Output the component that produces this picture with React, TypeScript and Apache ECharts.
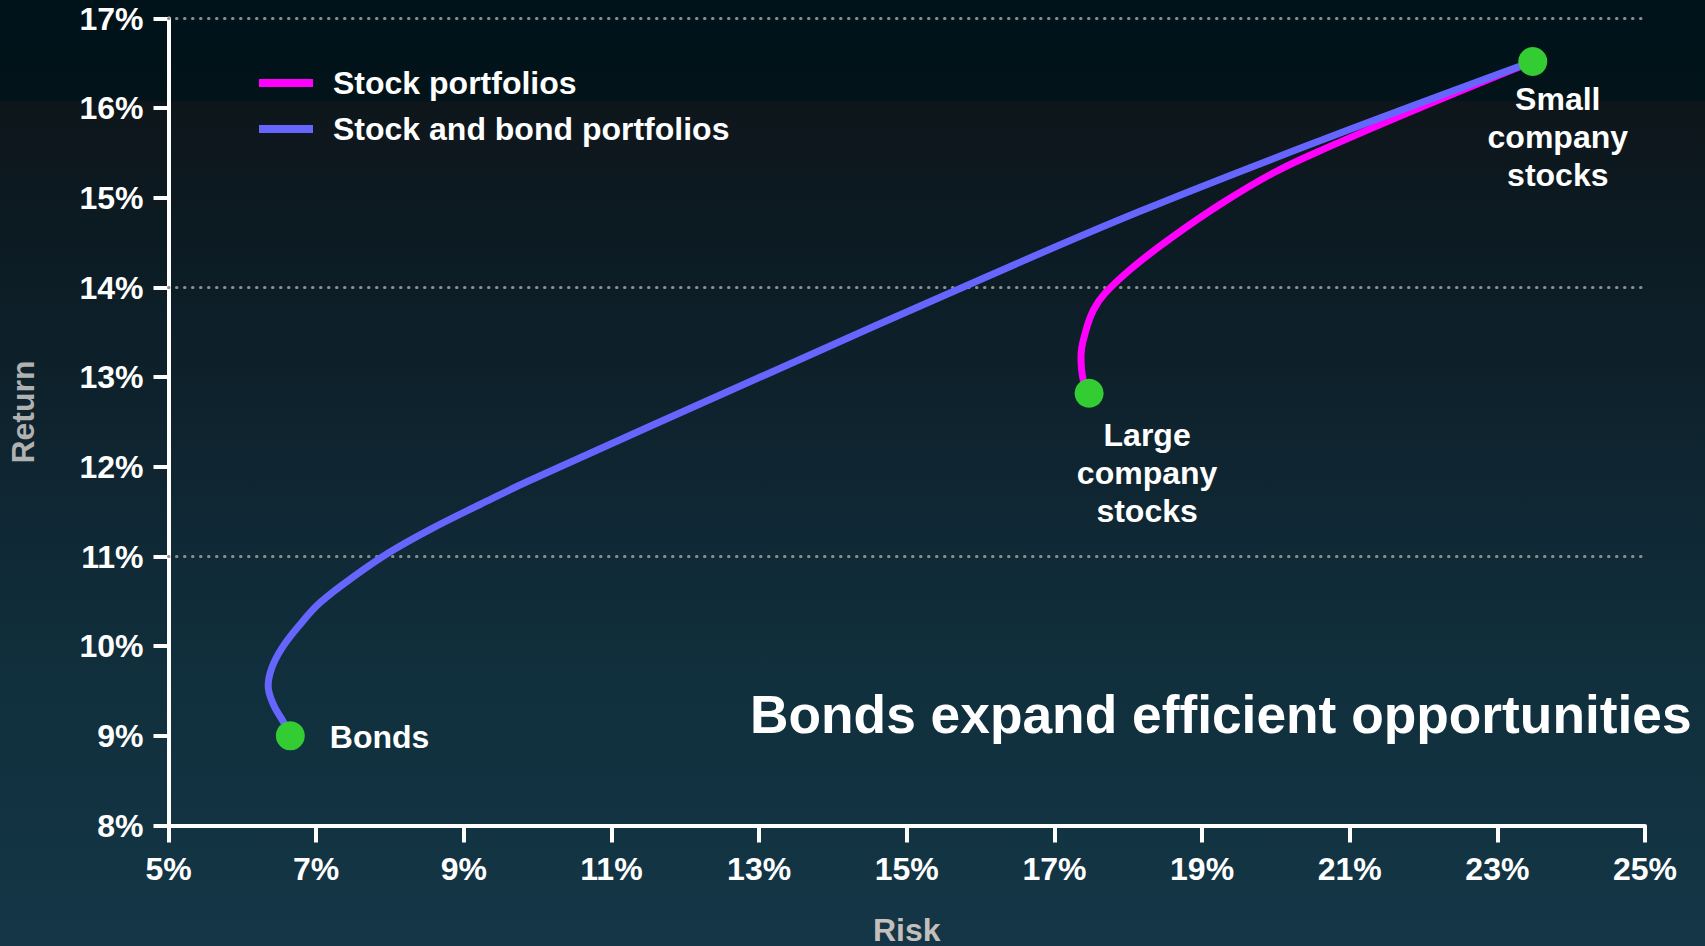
import React, { useEffect, useRef } from "react";
import * as echarts from "echarts";

// ---- data ----
const xTickValues = [5, 7, 9, 11, 13, 15, 17, 19, 21, 23, 25];
const yMin = 8;
const yMax = 17;
const gridLevels = [11, 14, 17];

const seriesNames = ["Stock portfolios", "Stock and bond portfolios"];

// risk %, return %
const stockPortfolios: [number, number][] = [
  [17.47, 12.82],
  [17.39, 12.97],
  [17.36, 13.23],
  [17.42, 13.5],
  [17.53, 13.75],
  [17.69, 13.94],
  [18.07, 14.23],
  [18.61, 14.57],
  [19.29, 14.95],
  [19.97, 15.28],
  [20.64, 15.54],
  [22.0, 16.02],
  [23.48, 16.52],
];

const stockBondPortfolios: [number, number][] = [
  [6.65, 9.0],
  [6.56, 9.15],
  [6.42, 9.35],
  [6.35, 9.56],
  [6.4, 9.76],
  [6.53, 9.97],
  [6.75, 10.21],
  [7.06, 10.49],
  [7.55, 10.8],
  [8.0, 11.05],
  [8.54, 11.3],
  [9.22, 11.58],
  [9.9, 11.85],
  [13.15, 13.05],
  [16.0, 14.09],
  [18.16, 14.85],
  [20.64, 15.65],
  [23.48, 16.52],
];

const pointNames = ["Bonds", "Large\ncompany\nstocks", "Small\ncompany\nstocks"];
const pointValues: [number, number][] = [
  [6.65, 9.0],
  [17.47, 12.82],
  [23.48, 16.52],
];

const titleText = "Bonds expand efficient opportunities";
const xName = "Risk";
const yName = "Return";

// ---- styles ----
const FONT = "Liberation Sans, Arial, Helvetica, sans-serif";
const PINK = "#ff00ff";
const BLUE = "#6666ff";
const GREEN = "#33cc33";

const pointLabelLayouts = [
  { position: "right", distance: 25, offset: [0, 1], align: "left" },
  { position: "bottom", distance: 8, offset: [58, 0], align: "center" },
  { position: "bottom", distance: 4, offset: [25, 0], align: "center" },
];

export default function App() {
  const ref = useRef<HTMLDivElement>(null);

  useEffect(() => {
    document.body.style.margin = "0";
    const chart = echarts.init(ref.current as HTMLDivElement, undefined, {
      renderer: "svg",
    });

    const axisLabelStyle = {
      color: "#ffffff",
      fontFamily: FONT,
      fontWeight: "bold",
      fontSize: 32,
    };

    chart.setOption({
      animation: false,
      backgroundColor: "transparent",
      textStyle: { fontFamily: FONT },
      title: {
        text: titleText,
        left: 745,
        top: 683,
        textStyle: {
          color: "#ffffff",
          fontFamily: FONT,
          fontWeight: "bold",
          fontSize: 53.3,
          lineHeight: 53,
        },
      },
      legend: {
        data: seriesNames,
        orient: "vertical",
        left: 254,
        top: 62,
        icon: "rect",
        itemWidth: 54,
        itemHeight: 8,
        itemGap: 14,
        selectedMode: false,
        textStyle: {
          color: "#ffffff",
          fontFamily: FONT,
          fontWeight: "bold",
          fontSize: 32,
          lineHeight: 32,
          padding: [0, 0, 0, 15],
        },
      },
      grid: {
        left: 168.5,
        right: 60,
        top: 18.5,
        bottom: 120.5,
        containLabel: false,
        outerBoundsMode: "none",
      },
      xAxis: {
        type: "value",
        min: 5,
        max: 25,
        interval: 1,
        name: xName,
        nameLocation: "middle",
        nameGap: 88,
        nameMoveOverlap: false,
        nameTextStyle: {
          color: "#c2bfbc",
          fontFamily: FONT,
          fontWeight: "bold",
          fontSize: 32,
        },
        axisLine: { show: true, lineStyle: { color: "#ffffff", width: 4 } },
        axisTick: {
          show: true,
          length: 17,
          lineStyle: { color: "#ffffff", width: 4 },
          customValues: xTickValues,
        },
        axisLabel: {
          ...axisLabelStyle,
          margin: 27,
          customValues: xTickValues,
          formatter: (v: number) => `${v}%`,
        },
        splitLine: { show: false },
      },
      yAxis: {
        type: "value",
        min: yMin,
        max: yMax,
        interval: 1,
        name: yName,
        nameLocation: "middle",
        nameGap: 130,
        nameMoveOverlap: false,
        nameTextStyle: {
          color: "#b0b1b1",
          fontFamily: FONT,
          fontWeight: "bold",
          fontSize: 32,
          padding: [0, 0, 0, 20],
        },
        axisLine: { show: true, lineStyle: { color: "#ffffff", width: 4 } },
        axisTick: {
          show: true,
          length: 15,
          lineStyle: { color: "#ffffff", width: 4 },
        },
        axisLabel: {
          ...axisLabelStyle,
          margin: 25,
          formatter: (v: number) => `${v}%`,
        },
        splitLine: { show: false },
      },
      series: [
        {
          name: seriesNames[0],
          type: "line",
          data: stockPortfolios,
          smooth: 0.4,
          showSymbol: false,
          symbol: "none",
          z: 2,
          lineStyle: { color: PINK, width: 7 },
          itemStyle: { color: PINK },
          emphasis: { disabled: true },
          markLine: {
            silent: true,
            z: 1,
            symbol: "none",
            label: { show: false },
            emphasis: { disabled: true },
            lineStyle: {
              color: "#8e8e8e",
              width: 3,
              type: [0.5, 7.5],
              cap: "round",
            },
            data: gridLevels.map((v) => ({ yAxis: v })),
          },
        },
        {
          name: seriesNames[1],
          type: "line",
          data: stockBondPortfolios,
          smooth: 0.4,
          showSymbol: false,
          symbol: "none",
          z: 3,
          lineStyle: { color: BLUE, width: 7 },
          itemStyle: { color: BLUE },
          emphasis: { disabled: true },
        },
        {
          name: "points",
          type: "scatter",
          z: 4,
          symbolSize: 29,
          itemStyle: { color: GREEN, opacity: 1 },
          emphasis: { disabled: true },
          data: pointValues.map((v, i) => ({
            value: v,
            name: pointNames[i],
            label: {
              show: true,
              formatter: "{b}",
              color: "#ffffff",
              opacity: 1,
              fontFamily: FONT,
              fontWeight: "bold",
              fontSize: 32,
              lineHeight: 38,
              ...pointLabelLayouts[i],
            },
          })),
        },
      ],
    });

    return () => {
      chart.dispose();
    };
  }, []);

  return (
    <div
      ref={ref}
      style={{
        position: "absolute",
        left: 0,
        top: 0,
        width: 1705,
        height: 946,
        background:
          "linear-gradient(to bottom, #01131a 0px, #02141a 100px, #0e161b 102px, #0c1b23 240px, #0f2632 480px, #11303e 700px, #143646 946px)",
      }}
    />
  );
}
